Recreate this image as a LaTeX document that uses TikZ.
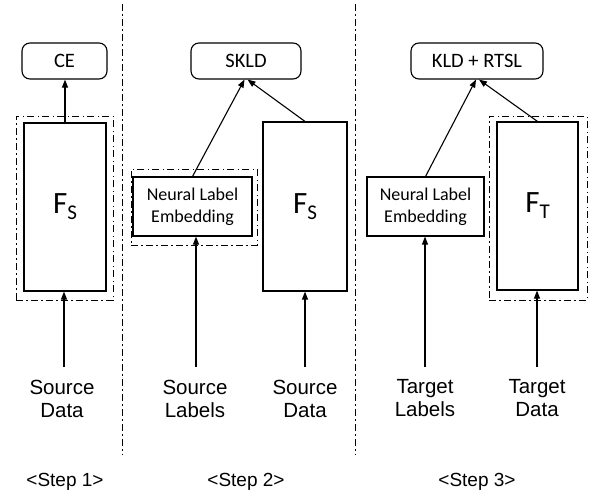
\documentclass[tikz,border=0pt]{standalone}
\usepackage{fontspec}
\setmainfont{Carlito}
\newfontfamily\arialf{Liberation Sans}
\usetikzlibrary{arrows.meta}
\newcommand{\fsubx}[2]{#1\raisebox{-6pt}{\fontsize{21}{22}\selectfont #2}}
\begin{document}
\begin{tikzpicture}[x=1pt,y=-1pt,
  lw/.style={line width=1.1pt},
  lossbox/.style={draw,lw,rounded corners=8pt,minimum height=36pt,inner sep=0,font=\fontsize{20.5}{22}\selectfont},
  netbox/.style={draw,lw,inner sep=0,font=\fontsize{31}{32}\selectfont},
  embbox/.style={draw,lw,inner sep=0,align=center,minimum height=59pt,font=\fontsize{18}{22}\selectfont},
  dashdot/.style={line width=0.9pt,dash pattern=on 7pt off 3pt on 1.5pt off 3.5pt},
  groupbox/.style={draw,dashdot,inner sep=0},
  conn/.style={lw,-{Triangle[length=8pt,width=6pt]}},
  iolabel/.style={font=\arialf\fontsize{20.5}{23}\selectfont,align=center,inner sep=0},
  steplabel/.style={font=\arialf\fontsize{19}{22}\selectfont,inner sep=0,anchor=base}
]
\useasboundingbox (0,0) rectangle (596,496);

% loss boxes
\node[lossbox,minimum width=85pt] (ce) at (64.5,61) {CE};
\node[lossbox,minimum width=110pt] (skld) at (246,61) {SKLD};
\node[lossbox,minimum width=132pt] (kld) at (477,61) {KLD + RTSL};

% group (dash-dot) boxes
\node[groupbox,minimum width=97pt,minimum height=184pt] (g1) at (64.5,208) {};
\node[groupbox,minimum width=126pt,minimum height=76pt] (g2) at (194,207) {};
\node[groupbox,minimum width=98pt,minimum height=184pt] (g3) at (538,208) {};

% network boxes
\node[netbox,minimum width=82pt,minimum height=168pt] (fs1) at (65,207) {\fsubx{F}{S}};
\node[embbox,minimum width=119pt] (nle2) at (192.5,206.5) {Neural Label\\Embedding};
\node[netbox,minimum width=84pt,minimum height=169pt] (fs2) at (305,206.5) {\fsubx{F}{S}};
\node[embbox,minimum width=117pt] (nle3) at (425.5,206.5) {Neural Label\\Embedding};
\node[netbox,minimum width=81pt,minimum height=168pt] (ft) at (537.5,206) {\fsubx{F}{T}};

% separators
\coordinate (s1t) at (122,4);
\coordinate (s1b) at (122,455);
\coordinate (s2t) at (355,4);
\coordinate (s2b) at (355,455);
\draw[dashdot] (s1t) -- (s1b);
\draw[dashdot] (s2t) -- (s2b);

% upward connectors to losses
\draw[conn] (fs1.north) -- (fs1.north |- ce.south);
\draw[conn] (nle2.north) -- ([xshift=-1.5pt]skld.south);
\draw[conn] (fs2.north) -- ([xshift=1.5pt]skld.south);
\draw[conn] (nle3.north) -- ([xshift=-1pt]kld.south);
\draw[conn] (ft.north) -- ([xshift=2pt]kld.south);

% input labels
\node[iolabel] (src1) at (62,398.5) {Source\\Data};
\node[iolabel] (srcl2) at (195,398.5) {Source\\Labels};
\node[iolabel] (srcd2) at (305,398.5) {Source\\Data};
\node[iolabel] (tgtl3) at (425,398.5) {Target\\Labels};
\node[iolabel] (tgtd3) at (537,398.5) {Target\\Data};

% input connectors
\coordinate (i1) at (64,367);
\coordinate (i2) at (196,367);
\coordinate (i3) at (305,367);
\coordinate (i4) at (425,367);
\coordinate (i5) at (537,367);
\draw[conn] (i1) -- (i1 |- fs1.south);
\draw[conn] (i2) -- (i2 |- nle2.south);
\draw[conn] (i3) -- (i3 |- fs2.south);
\draw[conn] (i4) -- (i4 |- nle3.south);
\draw[conn] (i5) -- (i5 |- ft.south);

% step labels
\node[steplabel] (st1) at (65,486) {<Step 1>};
\node[steplabel] (st2) at (246,486) {<Step 2>};
\node[steplabel] (st3) at (477,486) {<Step 3>};
\end{tikzpicture}
\end{document}
